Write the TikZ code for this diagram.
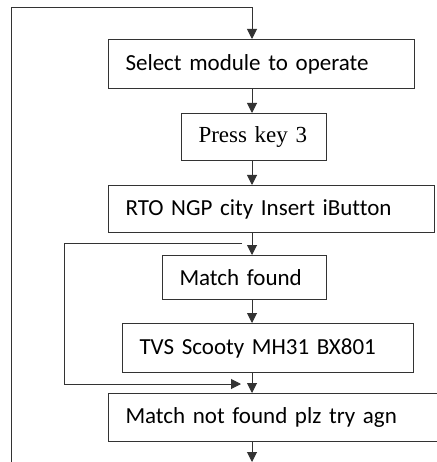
\documentclass[tikz,border=0pt]{standalone}
\usepackage{fontspec}
\setmainfont[Ligatures={NoCommon}]{Carlito}
\newfontfamily\timesfont{Liberation Serif}
\usetikzlibrary{arrows.meta}
\tikzset{
  ln/.style={draw=black!80, line width=1pt},
  arr/.style={ln, -{Triangle[length=10pt,width=10pt]}},
  box/.style={ln, rectangle, inner xsep=17pt, inner ysep=0pt, align=left,
    font=\fontsize{23}{27}\selectfont, text=black, anchor=north west},
}
\newcommand{\mybox}[6]{% name, x1, y1, x2, y2, text
  \pgfmathsetmacro{\bw}{#4-#2}\pgfmathsetmacro{\bh}{#5-#3}
  \pgfmathsetmacro{\tw}{#4-#2-34}
  \node[box, minimum width=\bw pt, minimum height=\bh pt, text width=\tw pt] (#1) at (#2,#3) {#6};
}
\begin{document}
\begin{tikzpicture}[x=1pt,y=-1pt]
\useasboundingbox (0,0) rectangle (436,462);
\mybox{b1}{108}{39}{414}{88}{Select module to operate}
\mybox{b2}{181}{113}{326}{160}{\timesfont Press key 3}
\mybox{b3}{108}{185}{434}{232}{RTO NGP city Insert iButton}
\mybox{b4}{162}{255}{326}{299}{Match found}
\mybox{b5}{122}{323}{413}{372}{TVS Scooty MH31 BX801}
\mybox{b6}{108}{393}{440}{441}{Match not found plz try agn}
\coordinate (c) at (252,0);
\coordinate (tl) at (11,8);
\coordinate (bl) at (11,462);
\coordinate (end) at (252,462);
\coordinate (la) at (242,243);
\coordinate (lb) at (64,243);
\coordinate (lc) at (64,384);
\coordinate (ld) at (241,384);
\draw[arr] (bl) -- (tl) -| (b1.north -| c);
\draw[arr] (b1.south -| c) -- (b2.north -| c);
\draw[arr] (b2.south -| c) -- (b3.north -| c);
\draw[arr] (b3.south -| c) -- (b4.north -| c);
\draw[arr] (b4.south -| c) -- (b5.north -| c);
\draw[arr] (b5.south -| c) -- (b6.north -| c);
\draw[arr] (b6.south -| c) -- (end);
\draw[arr] (la) -- (lb) -- (lc) -- (ld);
\end{tikzpicture}
\end{document}
